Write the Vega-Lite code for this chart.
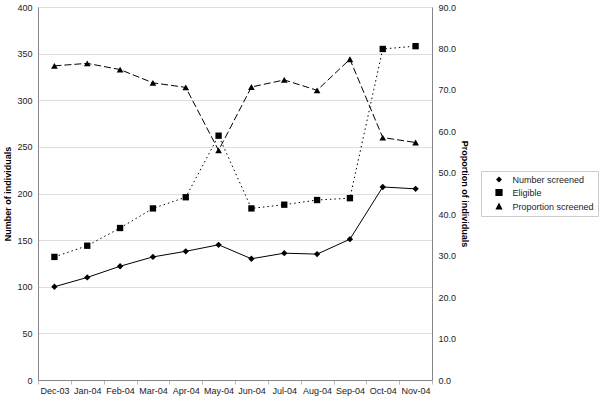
{
  "$schema": "https://vega.github.io/schema/vega-lite/v6.json",
  "width": 394,
  "height": 373,
  "autosize": "none",
  "padding": {"left": 38, "top": 7, "right": 168, "bottom": 23},
  "background": "white",
  "config": {
    "font": "Liberation Sans",
    "view": {"stroke": null},
    "axis": {
      "labelFont": "Liberation Sans",
      "labelFontSize": 9,
      "labelColor": "#222222",
      "titleFont": "Liberation Sans",
      "titleFontSize": 9,
      "titleFontWeight": "bold",
      "titleColor": "#000000",
      "domainColor": "#868686",
      "tickColor": "#bbbbbb",
      "gridColor": "#dedede"
    }
  },
  "data": {
    "values": [
      {"month": "Dec-03", "series": "Number screened", "value": 100},
      {"month": "Jan-04", "series": "Number screened", "value": 110},
      {"month": "Feb-04", "series": "Number screened", "value": 122},
      {"month": "Mar-04", "series": "Number screened", "value": 132},
      {"month": "Apr-04", "series": "Number screened", "value": 138},
      {"month": "May-04", "series": "Number screened", "value": 145},
      {"month": "Jun-04", "series": "Number screened", "value": 130},
      {"month": "Jul-04", "series": "Number screened", "value": 136},
      {"month": "Aug-04", "series": "Number screened", "value": 135},
      {"month": "Sep-04", "series": "Number screened", "value": 151},
      {"month": "Oct-04", "series": "Number screened", "value": 207},
      {"month": "Nov-04", "series": "Number screened", "value": 205},
      {"month": "Dec-03", "series": "Eligible", "value": 132},
      {"month": "Jan-04", "series": "Eligible", "value": 144},
      {"month": "Feb-04", "series": "Eligible", "value": 163},
      {"month": "Mar-04", "series": "Eligible", "value": 184},
      {"month": "Apr-04", "series": "Eligible", "value": 196},
      {"month": "May-04", "series": "Eligible", "value": 262},
      {"month": "Jun-04", "series": "Eligible", "value": 184},
      {"month": "Jul-04", "series": "Eligible", "value": 188},
      {"month": "Aug-04", "series": "Eligible", "value": 193},
      {"month": "Sep-04", "series": "Eligible", "value": 195},
      {"month": "Oct-04", "series": "Eligible", "value": 355},
      {"month": "Nov-04", "series": "Eligible", "value": 358},
      {"month": "Dec-03", "series": "Proportion screened", "value": 75.8},
      {"month": "Jan-04", "series": "Proportion screened", "value": 76.4},
      {"month": "Feb-04", "series": "Proportion screened", "value": 74.9},
      {"month": "Mar-04", "series": "Proportion screened", "value": 71.7},
      {"month": "Apr-04", "series": "Proportion screened", "value": 70.6},
      {"month": "May-04", "series": "Proportion screened", "value": 55.4},
      {"month": "Jun-04", "series": "Proportion screened", "value": 70.7},
      {"month": "Jul-04", "series": "Proportion screened", "value": 72.4},
      {"month": "Aug-04", "series": "Proportion screened", "value": 69.9},
      {"month": "Sep-04", "series": "Proportion screened", "value": 77.4},
      {"month": "Oct-04", "series": "Proportion screened", "value": 58.5},
      {"month": "Nov-04", "series": "Proportion screened", "value": 57.3}
    ]
  },
  "encoding": {
    "x": {
      "field": "month",
      "type": "ordinal",
      "sort": null,
      "scale": {"type": "band", "paddingInner": 0, "paddingOuter": 0},
      "axis": {
        "title": null,
        "labelAngle": 0,
        "tickBand": "extent",
        "tickSize": 4,
        "labelPadding": 2,
        "domainColor": "#868686",
        "grid": false
      }
    }
  },
  "layer": [
    {
      "transform": [{"filter": "datum.series != 'Proportion screened'"}],
      "encoding": {
        "y": {
          "field": "value",
          "type": "quantitative",
          "scale": {"domain": [0, 400], "nice": false},
          "axis": {
            "title": "Number of individuals",
            "orient": "left",
            "values": [0, 50, 100, 150, 200, 250, 300, 350, 400],
            "ticks": false,
            "labelPadding": 6,
            "titlePadding": 4,
            "grid": true,
            "domainColor": "#868686"
          }
        }
      },
      "layer": [
        {
          "transform": [{"filter": "datum.series == 'Number screened'"}],
          "mark": {"type": "line", "color": "black", "strokeWidth": 1},
          "encoding": {}
        },
        {
          "transform": [{"filter": "datum.series == 'Eligible'"}],
          "mark": {"type": "line", "color": "black", "strokeWidth": 1, "strokeDash": [1.5, 3]},
          "encoding": {}
        },
        {
          "transform": [{"filter": "datum.series == 'Number screened'"}],
          "mark": {"type": "point", "filled": true, "color": "black", "opacity": 1, "size": 40, "shape": "diamond"},
          "encoding": {}
        },
        {
          "transform": [{"filter": "datum.series == 'Eligible'"}],
          "mark": {"type": "point", "filled": true, "color": "black", "opacity": 1, "size": 40, "shape": "square"},
          "encoding": {}
        },
        {
          "transform": [{"filter": "datum.value < 0"}],
          "mark": {"type": "point", "filled": true, "fill": "black", "stroke": "black", "strokeWidth": 1, "opacity": 1, "size": 36},
          "encoding": {
            "shape": {
              "field": "series",
              "type": "nominal",
              "scale": {
                "domain": ["Number screened", "Eligible", "Proportion screened"],
                "range": [
                  "M-4.3,0H4.3M0,-1L1,0L0,1L-1,0Z",
                  "M-4.3,0H-3.8M-3,0H-2.5M2.5,0H3M3.8,0H4.3M-1.2,-1.2H1.2V1.2H-1.2Z",
                  "M-4.3,0H-2.3M2.3,0H4.3M0,-1.3L1.2,1L-1.2,1Z"
                ]
              },
              "legend": {
                "title": null,
                "orient": "none",
                "legendX": 443,
                "legendY": 164,
                "strokeColor": "#cccccc",
                "fillColor": "white",
                "padding": 4,
                "labelFont": "Liberation Sans",
                "labelFontSize": 9,
                "labelColor": "#222222",
                "symbolSize": 36,
                "symbolOffset": 9.5,
                "labelOffset": 9,
                "rowPadding": 1,
                "symbolFillColor": "black",
                "symbolStrokeColor": "black",
                "symbolStrokeWidth": 1,
                "symbolOpacity": 1,
                "encode": {
                  "symbols": {
                    "stroke": {"value": "black"},
                    "strokeWidth": {"value": 1},
                    "fill": {"value": "black"}
                  }
                }
              }
            }
          }
        }
      ]
    },
    {
      "transform": [{"filter": "datum.series == 'Proportion screened'"}],
      "encoding": {
        "y": {
          "field": "value",
          "type": "quantitative",
          "scale": {"domain": [0, 90], "nice": false},
          "axis": {
            "title": "Proportion of individuals",
            "orient": "right",
            "values": [0, 10, 20, 30, 40, 50, 60, 70, 80, 90],
            "format": ".1f",
            "ticks": false,
            "labelPadding": 6,
            "titlePadding": 4,
            "grid": false,
            "domainColor": "#868686"
          }
        }
      },
      "layer": [
        {
          "mark": {"type": "line", "color": "black", "strokeWidth": 1, "strokeDash": [7, 3]},
          "encoding": {}
        },
        {
          "mark": {"type": "point", "filled": true, "color": "black", "opacity": 1, "size": 45, "shape": "triangle-up"},
          "encoding": {}
        }
      ]
    }
  ],
  "resolve": {"scale": {"y": "independent"}}
}
